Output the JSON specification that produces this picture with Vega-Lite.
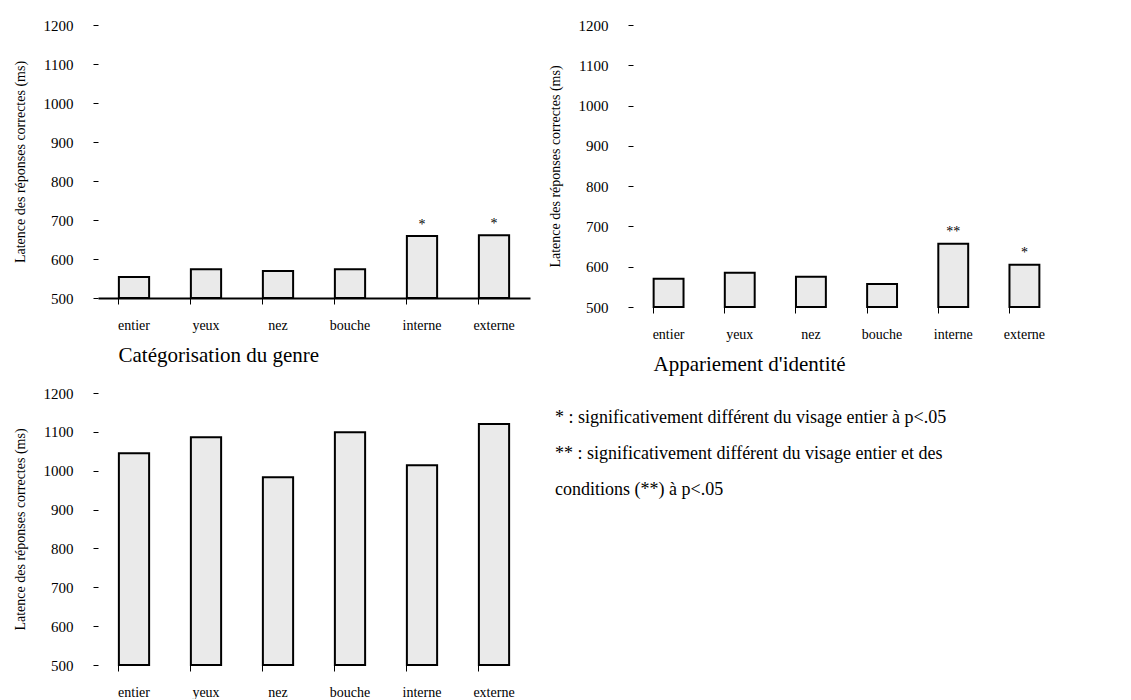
{
  "$schema": "https://vega.github.io/schema/vega-lite/v6.json",
  "padding": {"left": 13, "top": 18, "right": 5, "bottom": 0},
  "background": "white",
  "config": {
    "font": "Liberation Serif",
    "view": {"stroke": null},
    "axisY": {"domain": false, "ticks": true, "tickSize": 5, "tickColor": "black", "labelPadding": 20, "grid": false, "values": [500, 600, 700, 800, 900, 1000, 1100, 1200], "format": "d", "labelFontSize": 15, "labelColor": "black", "titleFontSize": 14, "titleFontWeight": "normal", "titleColor": "black", "titlePadding": 16},
    "axisX": {"labelAngle": 0, "bandPosition": 0, "tickSize": 6, "tickColor": "black", "domainColor": "black", "domainWidth": 2, "labelPadding": 14, "labelFontSize": 14, "labelColor": "black", "titleFontSize": 21, "titleFontWeight": "normal", "titleColor": "black", "titlePadding": 12, "grid": false}
  },
  "datasets": {
    "genre": [
      {"cond": "entier", "rt": 554, "sig": ""},
      {"cond": "yeux", "rt": 574, "sig": ""},
      {"cond": "nez", "rt": 569, "sig": ""},
      {"cond": "bouche", "rt": 574, "sig": ""},
      {"cond": "interne", "rt": 659, "sig": "*"},
      {"cond": "externe", "rt": 661, "sig": "*"}
    ],
    "identite": [
      {"cond": "entier", "rt": 570, "sig": ""},
      {"cond": "yeux", "rt": 585, "sig": ""},
      {"cond": "nez", "rt": 575, "sig": ""},
      {"cond": "bouche", "rt": 557, "sig": ""},
      {"cond": "interne", "rt": 657, "sig": "**"},
      {"cond": "externe", "rt": 605, "sig": "*"}
    ],
    "troisieme": [
      {"cond": "entier", "rt": 1045, "sig": ""},
      {"cond": "yeux", "rt": 1086, "sig": ""},
      {"cond": "nez", "rt": 983, "sig": ""},
      {"cond": "bouche", "rt": 1099, "sig": ""},
      {"cond": "interne", "rt": 1014, "sig": ""},
      {"cond": "externe", "rt": 1120, "sig": ""}
    ],
    "notes": [
      {"line": 1, "pos": 0, "text": "* : significativement différent du visage entier à p<.05"},
      {"line": 2, "pos": 0, "text": "** : significativement différent du visage entier et des"},
      {"line": 3, "pos": 0, "text": "conditions (**) à p<.05"}
    ]
  },
  "vconcat": [
    {
      "hconcat": [
        {
          "width": 432, "height": 273,
          "data": {"name": "genre"},
          "encoding": {
            "x": {"field": "cond", "type": "nominal", "sort": null, "scale": {"paddingInner": 0.58, "paddingOuter": 0.29}, "axis": {"title": "Catégorisation du genre", "titleAnchor": "start", "titleAlign": "left", "titleX": 20}}
          },
          "layer": [
            {"mark": {"type": "bar", "fill": "#eaeaea", "stroke": "black", "strokeWidth": 2},
             "encoding": {"y": {"field": "rt", "type": "quantitative", "scale": {"domain": [500, 1200], "zero": false}, "axis": {"title": "Latence des réponses correctes (ms)"}}, "y2": {"datum": 500}}},
            {"mark": {"type": "text", "dy": -11, "fontSize": 14, "color": "black"},
             "encoding": {"y": {"field": "rt", "type": "quantitative"}, "text": {"field": "sig"}}}
          ]
        },
        {
          "width": 427, "height": 282,
          "data": {"name": "identite"},
          "encoding": {
            "x": {"field": "cond", "type": "nominal", "sort": null, "scale": {"paddingInner": 0.58, "paddingOuter": 0.29}, "axis": {"domain": false, "title": "Appariement d'identité", "titleAnchor": "start", "titleAlign": "left", "titleX": 20}}
          },
          "layer": [
            {"mark": {"type": "bar", "fill": "#eaeaea", "stroke": "black", "strokeWidth": 2},
             "encoding": {"y": {"field": "rt", "type": "quantitative", "scale": {"domain": [500, 1200], "zero": false}, "axis": {"title": "Latence des réponses correctes (ms)"}}, "y2": {"datum": 500}}},
            {"mark": {"type": "text", "dy": -12, "fontSize": 14, "color": "black"},
             "encoding": {"y": {"field": "rt", "type": "quantitative"}, "text": {"field": "sig"}}}
          ]
        }
      ],
      "spacing": 18
    },
    {
      "hconcat": [
        {
          "width": 432, "height": 272,
          "data": {"name": "troisieme"},
          "encoding": {
            "x": {"field": "cond", "type": "nominal", "sort": null, "scale": {"paddingInner": 0.58, "paddingOuter": 0.29}, "axis": {"domain": false, "title": null}}
          },
          "layer": [
            {"mark": {"type": "bar", "fill": "#eaeaea", "stroke": "black", "strokeWidth": 2},
             "encoding": {"y": {"field": "rt", "type": "quantitative", "scale": {"domain": [500, 1200], "zero": false}, "axis": {"title": "Latence des réponses correctes (ms)"}}, "y2": {"datum": 500}}}
          ]
        },
        {
          "width": 560, "height": 122,
          "data": {"name": "notes"},
          "mark": {"type": "text", "align": "left", "baseline": "middle", "fontSize": 18, "color": "black"},
          "encoding": {
            "x": {"field": "pos", "type": "quantitative", "scale": {"domain": [0, 1]}, "axis": null},
            "y": {"field": "line", "type": "ordinal", "scale": {"padding": 0.7}, "axis": null},
            "text": {"field": "text"}
          }
        }
      ],
      "spacing": 25
    }
  ],
  "spacing": 12
}
